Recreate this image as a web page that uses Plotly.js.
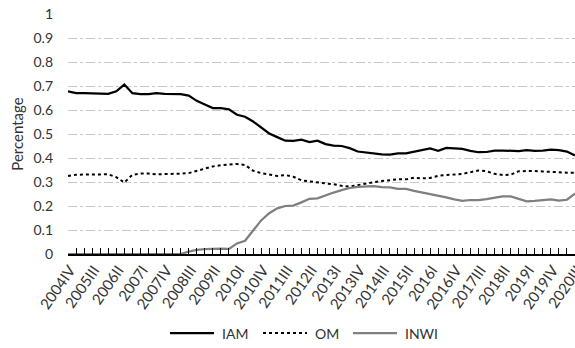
<!DOCTYPE html>
<html>
<head>
<meta charset="utf-8">
<script src="https://cdn.plot.ly/plotly-3.0.1.min.js"></script>
<style>html,body{margin:0;padding:0;background:#fff;}#chart{width:575px;height:348px;}</style>
</head>
<body>
<div id="chart"></div>
<script>
var quarters = [
"2004IV",
"2005I","2005II","2005III","2005IV",
"2006I","2006II","2006III","2006IV",
"2007I","2007II","2007III","2007IV",
"2008I","2008II","2008III","2008IV",
"2009I","2009II","2009III","2009IV",
"2010I","2010II","2010III","2010IV",
"2011I","2011II","2011III","2011IV",
"2012I","2012II","2012III","2012IV",
"2013I","2013II","2013III","2013IV",
"2014I","2014II","2014III","2014IV",
"2015I","2015II","2015III","2015IV",
"2016I","2016II","2016III","2016IV",
"2017I","2017II","2017III","2017IV",
"2018I","2018II","2018III","2018IV",
"2019I","2019II","2019III","2019IV",
"2020I","2020II","2020III"
];

var iam = [
0.678,0.670,0.670,0.670,0.668,0.667,0.678,0.706,0.670,0.666,
0.666,0.670,0.667,0.667,0.666,0.660,0.638,0.623,0.608,0.608,
0.603,0.580,0.572,0.552,0.528,0.502,0.487,0.472,0.471,0.476,
0.466,0.472,0.458,0.452,0.450,0.441,0.427,0.422,0.419,0.415,
0.414,0.419,0.419,0.425,0.434,0.440,0.430,0.442,0.440,0.438,
0.430,0.424,0.425,0.431,0.431,0.429,0.429,0.433,0.430,0.431,
0.435,0.433,0.427,0.410
];

var om = [
0.325,0.330,0.331,0.331,0.333,0.332,0.320,0.298,0.330,0.335,
0.335,0.332,0.333,0.333,0.335,0.337,0.346,0.356,0.365,0.370,
0.372,0.375,0.371,0.347,0.337,0.330,0.325,0.329,0.322,0.307,
0.302,0.298,0.294,0.291,0.284,0.281,0.288,0.294,0.299,0.304,
0.309,0.311,0.311,0.318,0.315,0.317,0.326,0.329,0.330,0.334,
0.341,0.348,0.345,0.334,0.329,0.330,0.345,0.347,0.346,0.344,
0.342,0.339,0.339,0.339
];

var inwi = [
0,0,0,0,0,0,0,0,0,0,
0,0,0,0,0,0.010,0.017,0.020,0.022,0.022,
0.021,0.044,0.055,0.100,0.140,0.170,0.190,0.200,0.202,0.215,
0.230,0.232,0.245,0.256,0.266,0.275,0.280,0.282,0.283,0.279,
0.278,0.271,0.271,0.263,0.257,0.250,0.244,0.236,0.228,0.221,
0.225,0.225,0.229,0.235,0.240,0.240,0.228,0.219,0.221,0.224,
0.228,0.222,0.226,0.252
];

var labelStep = 3;
var tickText = quarters.map(function(q, i){ return (i % labelStep === 0) ? q : ""; });

var font = "Lato, 'Liberation Sans', Arial, sans-serif";
var textColor = "#333333";

var traces = [
  {x: quarters, y: iam, name: "IAM", type: "scatter", mode: "lines",
   line: {color: "#000000", width: 2.25}},
  {x: quarters, y: om, name: "OM", type: "scatter", mode: "lines",
   line: {color: "#000000", width: 2, dash: "dot"}},
  {x: quarters, y: inwi, name: "INWI", type: "scatter", mode: "lines",
   line: {color: "#7f7f7f", width: 2.25}}
];

// Figure geometry (pixels) used for the hand-placed legend
var W = 575, H = 348, M = {l: 68, r: 0, t: 14, b: 94};
var plotW = W - M.l - M.r, plotH = H - M.t - M.b;
function px2x(px){ return (px - M.l) / plotW; }
function py2y(py){ return (H - M.b - py) / plotH; }

var legendY = 333;
var legendStarts = [170, 263, 353];   // left end of each sample line (px)
var sampleLen = 44, textGap = 6;

var shapes = [], annotations = [];
traces.forEach(function(t, k){
  var x0 = legendStarts[k];
  shapes.push({type: "line", xref: "paper", yref: "paper",
    x0: px2x(x0), x1: px2x(x0 + sampleLen), y0: py2y(legendY), y1: py2y(legendY),
    line: {color: t.line.color, width: t.line.width, dash: t.line.dash || "solid"}});
  annotations.push({xref: "paper", yref: "paper", x: px2x(x0 + sampleLen + textGap), y: py2y(legendY),
    xanchor: "left", yanchor: "middle", showarrow: false, text: t.name,
    font: {family: font, size: 14, color: textColor}});
});

var layout = {
  width: W, height: H,
  margin: {l: M.l, r: M.r, t: M.t, b: M.b, pad: 0, autoexpand: false},
  paper_bgcolor: "#ffffff", plot_bgcolor: "#ffffff",
  font: {family: font, size: 14, color: textColor},
  showlegend: false,
  shapes: shapes,
  annotations: annotations,
  xaxis: {
    type: "category",
    range: [0, quarters.length - 1],
    tickmode: "array", tickvals: quarters, ticktext: tickText,
    tickangle: -55,
    ticklabelshift: 2,
    ticks: "inside", ticklen: 6, tickwidth: 1, tickcolor: "#000000",
    showline: true, linecolor: "#000000", linewidth: 1.5,
    showgrid: false, zeroline: false,
    tickfont: {family: font, size: 15, color: textColor},
    automargin: false
  },
  yaxis: {
    range: [0, 1], dtick: 0.1, tick0: 0,
    showline: false, zeroline: false,
    showgrid: true, gridcolor: "#c8c8c8", gridwidth: 1, griddash: "dashdot",
    ticks: "", ticklabelstandoff: 14,
    tickfont: {family: font, size: 14, color: textColor},
    title: {text: "Percentage", font: {family: font, size: 15, color: textColor}, standoff: 6},
    automargin: false
  }
};

Plotly.newPlot("chart", traces, layout, {displayModeBar: false, staticPlot: true});
</script>
</body>
</html>
